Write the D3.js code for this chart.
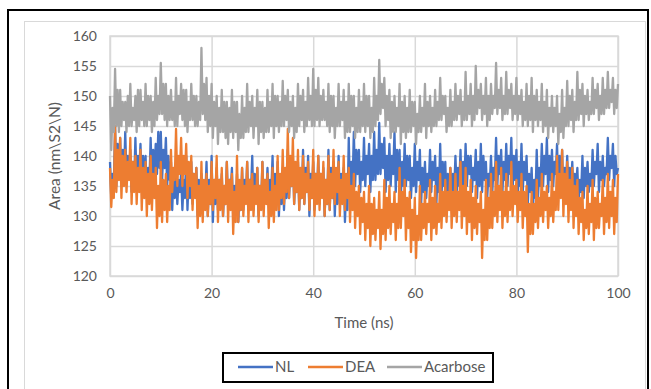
<!DOCTYPE html>
<html>
<head>
<meta charset="utf-8">
<script src="https://cdn.jsdelivr.net/npm/d3@7"></script>
<style>
  body { margin: 0; background: #fff; }
  svg { display: block; font-family: Lato, "Open Sans", sans-serif; }
</style>
</head>
<body>
<svg id="chart"></svg>
<script>
const timeStep = 0.25;
const xTicks = [0, 20, 40, 60, 80, 100];
const yTicks = [120, 125, 130, 135, 140, 145, 150, 155, 160];
const seriesNames = ["NL", "DEA", "Acarbose"];

const nl = [
  139,133,137,135, 145,135,142,137, 143,135,141,136, 144,136,140,137, 141,134,139,135,
  143,135,140,137, 142,134,140,136, 140,133,138,135, 143,136,141,137, 142,137,144,138,
  144,136,141,138, 143,135,140,136, 139,131,137,133, 138,132,136,134, 137,131,136,133,
  140,131,137,133, 139,132,137,134, 138,130,136,132, 137,131,135,133, 139,130,136,132,
  140,129,136,132, 138,131,136,133, 137,130,135,132, 139,132,136,134, 138,130,135,132,
  137,129,134,131, 138,131,136,133, 139,132,136,134, 140,131,137,133, 138,130,135,132,
  139,131,136,133, 138,132,136,134, 140,131,137,133, 139,130,136,132, 138,131,136,133,
  141,133,138,135, 140,132,137,134, 139,131,137,133, 141,132,138,134, 140,130,137,133,
  139,131,137,133, 140,132,137,134, 138,130,136,132, 141,131,138,133, 139,130,136,132,
  140,132,137,134, 138,129,135,131, 143,133,139,135, 144,135,141,137, 141,134,139,136,
  143,135,140,137, 142,134,140,136, 144,136,141,137, 145.5,137,142,138, 143,134,140,136,
  142,135,140,137, 144,134,141,136, 141,133,139,135, 142,135,140,136, 140,133,138,135,
  142,134,139,136, 141,132,138,134, 139,133,137,135, 141,134,139,136, 140,132,138,134,
  142,133,139,135, 139,132,137,134, 138,133,137,134, 140,134,138,135, 141,133,139,135,
  142,135,140,137, 140,134,138,136, 141,133,139,135, 142,134,140,136, 139,133,137,135,
  140,134,138,136, 143,135,140,137, 141,134,139,136, 142,135,140,137, 143,134,140,136,
  141,133,139,135, 142,134,139,136, 140,132,137,134, 138,131,136,133, 141,133,138,135,
  142,135,140,137, 143,134,140,136, 141,135,139,137, 142,134,140,136, 141,133,138,135,
  140,134,138,135, 139,133,137,135, 138,132,136,134, 140,133,138,135, 139,134,137,135,
  141,135,139,137, 142,134,139,136, 140,135,138,137, 143,136,140,138, 142,135,140,137,
  138
];

const dea = [
  138,131.5,136,133, 145,134,141,136, 143,133,140,135, 141,134,139,136, 143,132,139,134,
  140,132,138,134, 141,131,138,133, 139,130,137,132, 140,131,137,133, 138,128,135,130,
  139,129,136,131, 137,129,135,131, 141,134,138,136, 144.5,135,140,137, 143,135,140,137,
  142,133,139,135, 140,131,137,133, 138,128,135,130, 139,129,136,131, 137,130,135,132,
  139,131,136,133, 140,129,136,131, 138,130,135,132, 139,129,136,131, 137,127,134,129,
  140,129,136,131, 138,130,135,132, 139,129,136,131, 137,130,135,132, 138,129,135,131,
  139,130,136,132, 137,128,134,130, 138,129,135,131, 140,131,137,133, 141,132,138,134,
  144.5,133,140,135, 143,132,139,134, 141,131,138,133, 140,132,137,134, 139,131,136,133,
  141,130,137,132, 140,131,137,133, 139,130,136,132, 140,131,137,133, 141,132,138,134,
  139,130,136,132, 140,131,137,133, 138,129,135,131, 137,128,134,130, 135,127,133,129,
  134,126,132,128, 135,125,132,127, 133,126,131,128, 134,124.5,131,127, 136,126,133,128,
  135,127,132,129, 134,126,132,128, 138,128,134,130, 136,126,133,128, 134,124,131,126,
  133,123,130,126, 135,126,132,128, 134,127,132,129, 136,126,133,128, 135,127,132,129,
  137,128,134,130, 136,129,134,131, 138,128,134,130, 137,129,134,131, 139,128,135,130,
  138,127,134,129, 136,126,133,128, 135,127,132,129, 134,123,131,126, 136,126,133,128,
  137,128,134,130, 139,129,135,131, 138,128,134,130, 137,129,134,131, 139,130,135,132,
  136,129,134,131, 137,128,134,130, 135,124,132,127, 134,127,132,129, 136,128,133,130,
  137,129,134,131, 135,128,133,130, 137,129,134,131, 140,131,137,133, 141,130,137,132,
  139,129,136,131, 138,128,135,130, 136,127,133,129, 134,126,131,128, 135,127,132,129,
  136,126,133,128, 134,128,132,130, 136,127,133,129, 137,128,134,130, 136,127,133,129,
  137
];

const acarbose = [
  150,141,148,144, 154.5,145,151,144, 151,145,149,146, 149,144,150,145, 152,145,148,146,
  150,144,151,145, 151,146,149,145, 152,145,150,146, 150,144,149,145, 153,146,150,147,
  155.5,147,152,146, 152,145,150,146, 151,146,149,145, 153,145,150,147, 152,146,151,145,
  151,144,149,146, 152,146,150,145, 150,145,149,146, 158,147,152,146, 153,144,150,145,
  152,143,149,145, 150,142,148,144, 151,144,149,143, 149,142,148,144, 151,143,149,144,
  149,141,147,143, 150,143,148,144, 152,144,149,145, 150,143,148,145, 151,142,149,144,
  149,143,148,144, 151,144,149,145, 152,143,150,145, 150,144,149,145, 152.5,145,150,146,
  151,144,149,145, 150,143,148,144, 152,145,150,146, 151,144,149,145, 153,146,150,145,
  154.5,145,151,146, 153,145,150,146, 151,146,149,145, 152,144,150,145, 150,143,148,145,
  152,145,149,146, 151,143,149,144, 152,144,150,145, 150,143,148,144, 151,144,149,145,
  152,144,150,145, 150,143,148,144, 153,145,150,146, 156,147,152,148, 153,145,150,146,
  151,143,149,144, 150,144,148,145, 152,142,149,144, 150,143,148,144, 151,144,149,145,
  149,142,147,144, 150,144,148,145, 152,143,149,145, 150,144,148,145, 151,145,149,146,
  153,146,150,147, 150,144,148,145, 151,145,149,146, 152,146,150,147, 151,145,149,146,
  154,146,150,147, 152,145,150,146, 155,147,151,148, 152,146,150,147, 153,145,150,146,
  152,147,150,148, 155.5,147,151,148, 153,146,150,147, 154,147,151,148, 152,146,150,147,
  153,146,150,147, 151,145,149,146, 152,145,150,146, 153,144,150,146, 151,145,149,146,
  152,144,149,145, 151,143,148,145, 150,144,148,145, 150,142,147,144, 151,143,148,145,
  152.5,145,150,146, 151,144,149,146, 154,146,151,147, 152,145,150,147, 151,146,149,147,
  153,147,151,148, 152,146,150,147, 153,147,151,148, 154,148,151,149, 153,147,151,148,
  152
];

const colors = ["#4472C4", "#ED7D31", "#A5A5A5"];

const width = 651;
const height = 389;
const marginTop = 36;
const marginRight = 33;
const marginBottom = 113;
const marginLeft = 110;

const svg = d3.select("#chart")
    .attr("width", width)
    .attr("height", height);

// outer frame + chart area border
svg.append("rect")
    .attr("x", 8).attr("y", 10)
    .attr("width", 640).attr("height", 390)
    .attr("fill", "#fff")
    .attr("stroke", "#000")
    .attr("stroke-width", 2);
svg.append("rect")
    .attr("x", 24.5).attr("y", 21.5)
    .attr("width", 621).attr("height", 380)
    .attr("fill", "#fff")
    .attr("stroke", "#d9d9d9")
    .attr("stroke-width", 1);

const x = d3.scaleLinear()
    .domain([0, 100])
    .range([marginLeft, width - marginRight]);

const y = d3.scaleLinear()
    .domain([120, 160])
    .range([height - marginBottom, marginTop]);

// x-axis with vertical gridlines
const xAxis = svg.append("g")
    .attr("transform", `translate(0,${height - marginBottom})`)
    .call(d3.axisBottom(x).tickValues(xTicks).tickSize(-(height - marginBottom - marginTop)).tickPadding(12));

// y-axis with horizontal gridlines
const yAxis = svg.append("g")
    .attr("transform", `translate(${marginLeft},0)`)
    .call(d3.axisLeft(y).tickValues(yTicks).tickSize(-(width - marginRight - marginLeft)).tickPadding(13));

[xAxis, yAxis].forEach(g => {
  g.select(".domain").remove();
  g.selectAll(".tick line").attr("stroke", "#d9d9d9").attr("stroke-width", 1.5);
  g.selectAll(".tick text")
      .attr("fill", "#595959")
      .style("font-size", "14px")
      .style("font-family", "Lato, sans-serif");
});

// plot area border
svg.append("rect")
    .attr("x", marginLeft).attr("y", marginTop)
    .attr("width", width - marginRight - marginLeft)
    .attr("height", height - marginBottom - marginTop)
    .attr("fill", "none")
    .attr("stroke", "#d9d9d9")
    .attr("stroke-width", 1.5);

// data
const line = d3.line()
    .x((d, i) => x(i * timeStep))
    .y(d => y(d));

[nl, dea, acarbose].forEach((values, i) => {
  svg.append("path")
      .datum(values)
      .attr("fill", "none")
      .attr("stroke", colors[i])
      .attr("stroke-width", 2.3)
      .attr("stroke-linejoin", "round")
      .attr("d", line);
});

// axis titles
svg.append("text")
    .attr("x", x(50)).attr("y", 328)
    .attr("text-anchor", "middle")
    .attr("fill", "#595959")
    .style("font-size", "15px")
    .text("Time (ns)");

svg.append("text")
    .attr("transform", `translate(60,${y(140)}) rotate(-90)`)
    .attr("text-anchor", "middle")
    .attr("fill", "#595959")
    .style("font-size", "15.5px")
    .text("Area (nm\\S2\\N)");

// legend
svg.append("rect")
    .attr("x", 223).attr("y", 353)
    .attr("width", 270).attr("height", 29)
    .attr("fill", "#fff")
    .attr("stroke", "#000")
    .attr("stroke-width", 2);

const legendX = [238, 308, 387];
const legend = svg.append("g")
    .selectAll("g")
    .data(seriesNames)
    .join("g")
    .attr("transform", (d, i) => `translate(${legendX[i]},367)`);

legend.append("line")
    .attr("x1", 0).attr("x2", 35)
    .attr("stroke", (d, i) => colors[i])
    .attr("stroke-width", 2.5);

legend.append("text")
    .attr("x", 37).attr("y", 5)
    .attr("fill", "#595959")
    .style("font-size", "15px")
    .text(d => d);
</script>
</body>
</html>
